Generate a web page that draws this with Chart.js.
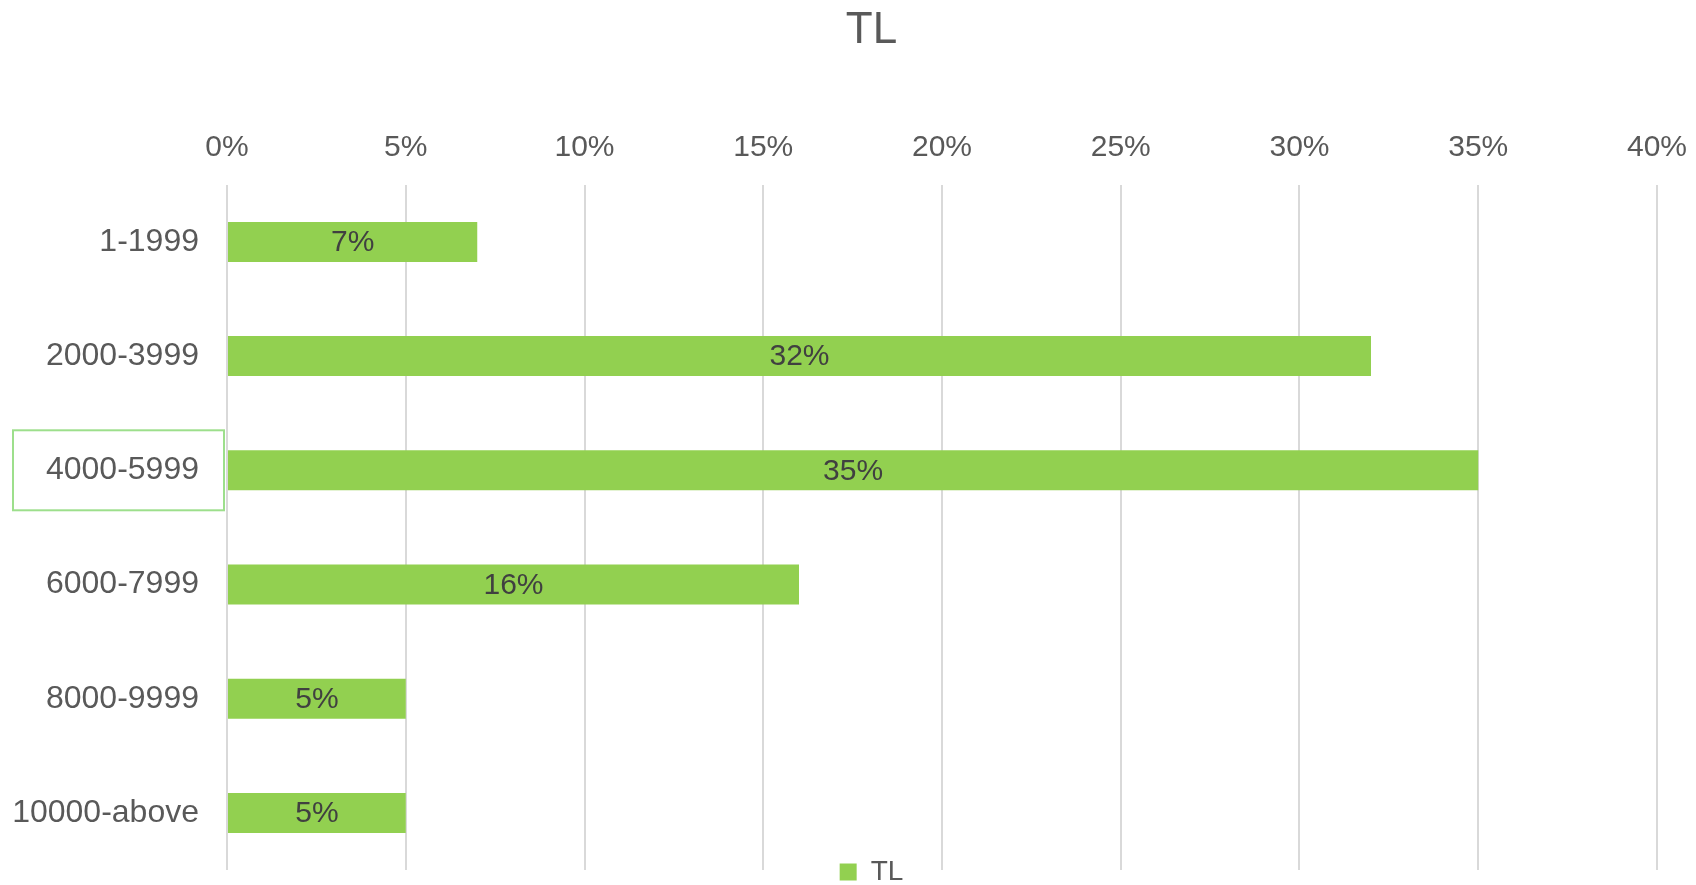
<!DOCTYPE html>
<html>
<head>
<meta charset="utf-8">
<title>TL</title>
<script src="https://cdn.jsdelivr.net/npm/chart.js"></script>
<style>
  html, body { margin: 0; padding: 0; background: #fff; }
  #wrap { width: 1696px; height: 885px; }
</style>
</head>
<body>
<div id="wrap"><canvas id="chart"></canvas></div>
<script>
// chart data
const categories = ["1-1999", "2000-3999", "4000-5999", "6000-7999", "8000-9999", "10000-above"];
const shares = [0.07, 0.32, 0.35, 0.16, 0.05, 0.05];
const seriesName = "TL";
const axisMax = 0.40;
const axisStep = 0.05;
const selectedIndex = 2; // the boxed category label

const FONT = "'Liberation Sans', Arial, sans-serif";
const GREEN = "#92D050";

// value labels drawn in the middle of each bar
const barLabels = {
  id: "barLabels",
  afterDatasetsDraw(chart) {
    const ctx = chart.ctx;
    const meta = chart.getDatasetMeta(0);
    ctx.save();
    ctx.font = "30px " + FONT;
    ctx.fillStyle = "#404040";
    ctx.textAlign = "center";
    ctx.textBaseline = "middle";
    meta.data.forEach((bar, i) => {
      const cx = (bar.x + bar.base) / 2;
      ctx.fillText(Math.round(shares[i] * 100) + "%", cx, bar.y + 1);
    });
    ctx.restore();
  }
};

// selection outline around one category label
const selectionBox = {
  id: "selectionBox",
  afterDraw(chart) {
    const y = chart.scales.y.getPixelForValue(selectedIndex);
    const ctx = chart.ctx;
    ctx.save();
    ctx.strokeStyle = "#9DDF8C";
    ctx.lineWidth = 2;
    ctx.strokeRect(13, y - 40, chart.chartArea.left - 16, 80);
    ctx.restore();
  }
};

// legend sits on the bottom end of the gridlines: short box for layout,
// then moved up a bit; title and legend are a bit right of page centre
const placeBlocks = {
  id: "placeBlocks",
  afterInit(chart) {
    const lg = chart.legend;
    if (!lg) return;
    const fit = lg.fit.bind(lg);
    lg.fit = function () {
      fit();
      this.height = 15;
    };
  },
  afterLayout(chart) {
    const shift = 37;
    const t = chart.titleBlock;
    if (t) { t.left += shift; t.right += shift; }
    const lg = chart.legend;
    if (lg) {
      lg.left += shift; lg.right += shift;
      lg.top = chart.height - 27; lg.bottom = chart.height; lg.height = 27;
    }
  }
};

new Chart(document.getElementById("chart"), {
  type: "bar",
  data: {
    labels: categories,
    datasets: [{
      label: seriesName,
      data: shares,
      backgroundColor: GREEN,
      borderWidth: 0,
      barPercentage: 0.35,
      categoryPercentage: 1.0
    }]
  },
  options: {
    indexAxis: "y",
    responsive: true,
    maintainAspectRatio: false,
    animation: false,
    layout: { padding: { top: 4, right: 39, left: 12, bottom: 0 } },
    scales: {
      x: {
        position: "top",
        min: 0,
        max: axisMax,
        border: { display: false },
        grid: { color: "#D9D9D9", lineWidth: 2, drawTicks: false },
        afterFit(scale) {
          scale.paddingLeft = 0;
          scale.paddingRight = 0;
        },
        ticks: {
          stepSize: axisStep,
          padding: 19,
          color: "#595959",
          font: { family: FONT, size: 30 },
          callback: v => Math.round(v * 100) + "%"
        }
      },
      y: {
        border: { display: false },
        grid: { display: false, drawTicks: false },
        afterFit(scale) {
          scale.width = 215;
          scale.paddingTop = 0;
          scale.paddingBottom = 0;
        },
        ticks: {
          padding: 28,
          color: "#595959",
          font: { family: FONT, size: 32 }
        }
      }
    },
    plugins: {
      title: {
        display: true,
        text: "TL",
        color: "#595959",
        font: { family: FONT, size: 44, weight: "normal" },
        padding: { top: 0, bottom: 54 }
      },
      legend: {
        position: "bottom",
        labels: {
          color: "#595959",
          font: { family: FONT, size: 28 },
          boxWidth: 17,
          boxHeight: 17,
          padding: 0
        }
      },
      tooltip: { enabled: false }
    }
  },
  plugins: [barLabels, selectionBox, placeBlocks]
});
</script>
</body>
</html>
